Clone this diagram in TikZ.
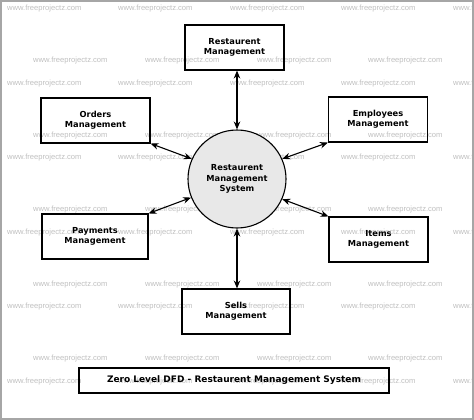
\documentclass[tikz,border=0pt]{standalone}
\usepackage{fontspec}
\setsansfont{DejaVu Sans}
\newfontfamily\markfont{Liberation Sans}
\usetikzlibrary{arrows.meta}
\begin{document}
\begin{tikzpicture}[x=1pt, y=-1pt,
            entity/.style={rectangle, draw, line width=1.1pt, minimum width=99pt, minimum height=45pt, inner sep=0pt, align=center, font=\sffamily\bfseries\fontsize{8.3}{10.2}\selectfont},
            process/.style={circle, draw, line width=1.1pt, fill=gray!18, minimum size=98pt, inner sep=0pt, align=center, font=\sffamily\bfseries\fontsize{8.3}{10.5}\selectfont},
            flow/.style={line width=1.1pt, {Stealth[length=8pt,width=6.5pt]}-{Stealth[length=8pt,width=6.5pt]}},
            wmark/.style={anchor=west, inner sep=0pt, text=gray!50, font=\markfont\fontsize{7.6}{8}\selectfont}
            ]
            \useasboundingbox (0,0) rectangle (474,420);
            % watermark rows
            \foreach \k in {0,...,5}
                \foreach \c in {7,118,230,341,453}
                    \node[wmark] (wa-\k-\c) at (\c,9+74.5*\k) {www.freeprojectz.com};
            \foreach \k in {0,...,4}
                \foreach \c in {33,145,257,368}
                    \node[wmark] (wb-\k-\c) at (\c,61+74.5*\k) {www.freeprojectz.com};
            \draw[gray!70, line width=2pt] (1,1) rectangle (473,419);

            \node[process] (sys) at (237,179) {Restaurent\\Management\\System};
            \node[entity] (rest) at (234.5,47.5) {Restaurent\\Management};
            \node[entity, minimum width=109pt] (orders) at (95.5,120.5) {Orders\\Management};
            \node[entity] (emp) at (378,119.5) {Employees\\Management};
            \node[entity, minimum width=106pt] (pay) at (95,236.5) {Payments\\Management};
            \node[entity] (items) at (378.5,239.5) {Items\\Management};
            \node[entity, minimum width=108pt] (sells) at (236,311.5) {Sells\\Management};
            \node[entity, minimum width=310pt, minimum height=25pt, font=\sffamily\bfseries\fontsize{9}{10}\selectfont] (title) at (234,380.5) {Zero Level DFD - Restaurent Management System};

            \draw[flow] (rest.south -| sys) -- (sys.north);
            \draw[flow] (orders.south east) -- (sys.156);
            \draw[flow] (emp.south west) -- (sys.24);
            \draw[flow] (pay.north east) -- (sys.202);
            \draw[flow] (items.north west) -- (sys.336);
            \draw[flow] (sys.south) -- (sells.north -| sys);
            \end{tikzpicture}
\end{document}
